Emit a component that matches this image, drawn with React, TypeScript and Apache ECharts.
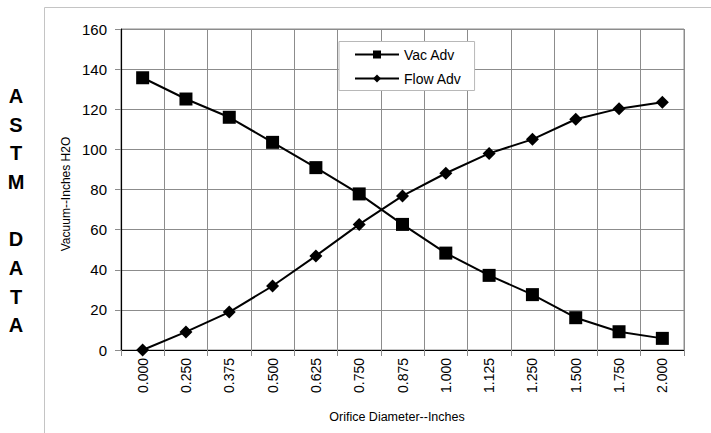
import React, { useEffect, useRef } from "react";
import * as echarts from "echarts";

const categories = ["0.000","0.250","0.375","0.500","0.625","0.750","0.875","1.000","1.125","1.250","1.500","1.750","2.000"];
const vacAdv = [135.7, 125.1, 116, 103.5, 90.9, 77.8, 62.6, 48.3, 37.2, 27.6, 16.1, 9.1, 5.8];
const flowAdv = [0, 9.0, 18.9, 31.9, 46.9, 62.6, 76.8, 88.1, 98, 105, 115, 120.3, 123.5];
const sideLetters = ["A", "S", "T", "M", "", "D", "A", "T", "A"];
const yTitle = "Vacuum--Inches H2O";
const xTitle = "Orifice Diameter--Inches";

const FONT = "'Liberation Sans', Arial, sans-serif";

export default function App() {
  const ref = useRef<HTMLDivElement>(null);
  useEffect(() => {
    if (!ref.current) return;
    const chart = echarts.init(ref.current, undefined, { renderer: "svg" });
    const letters = sideLetters
      .map((ch, i) => ({ ch, i }))
      .filter((d) => d.ch !== "")
      .map((d) => ({
        type: "text",
        x: 16,
        y: 96 + d.i * 28.66,
        style: {
          text: d.ch,
          fontFamily: FONT,
          fontSize: 20,
          fontWeight: "bold",
          fill: "#000",
          align: "center",
          verticalAlign: "middle",
        },
      }));
    chart.setOption({
      animation: false,
      backgroundColor: "#fff",
      textStyle: { fontFamily: FONT },
      graphic: [
        {
          type: "rect",
          shape: { x: 44.5, y: 7.5, width: 700, height: 500 },
          style: { fill: "none", stroke: "#c4c4c4", lineWidth: 1 },
          silent: true,
        },
        ...letters,
        {
          type: "text",
          x: 66,
          y: 194,
          rotation: Math.PI / 2,
          style: {
            text: yTitle,
            fontFamily: FONT,
            fontSize: 12,
            fill: "#000",
            align: "center",
            verticalAlign: "middle",
          },
        },
        {
          type: "text",
          x: 397,
          y: 417,
          style: {
            text: xTitle,
            fontFamily: FONT,
            fontSize: 12.5,
            fill: "#000",
            align: "center",
            verticalAlign: "middle",
          },
        },
      ],
      grid: {
        left: 121,
        top: 29,
        width: 563,
        height: 321,
        show: true,
        borderColor: "#8c8c8c",
        borderWidth: 1,
        containLabel: false,
      },
      legend: {
        orient: "vertical",
        left: 339,
        top: 41.5,
        itemWidth: 44,
        itemHeight: 10,
        itemGap: 10,
        padding: [6, 13, 5, 15],
        backgroundColor: "#fff",
        borderColor: "#b8b8b8",
        borderWidth: 1,
        borderRadius: 0,
        textStyle: { fontFamily: FONT, fontSize: 14, color: "#000", lineHeight: 14 },
        data: ["Vac Adv", "Flow Adv"],
      },
      xAxis: {
        type: "category",
        data: categories,
        boundaryGap: true,
        axisLine: { show: true, lineStyle: { color: "#000", width: 1.2 } },
        axisTick: { show: true, length: 6, lineStyle: { color: "#8c8c8c" } },
        splitLine: { show: true, lineStyle: { color: "#8c8c8c", width: 1 } },
        axisLabel: {
          rotate: 90,
          fontSize: 14,
          color: "#000",
          fontFamily: FONT,
          margin: 8,
          interval: 0,
        },
      },
      yAxis: {
        type: "value",
        min: 0,
        max: 160,
        interval: 20,
        axisLine: { show: true, lineStyle: { color: "#000", width: 1.2 } },
        axisTick: { show: true, length: 6, lineStyle: { color: "#8c8c8c" } },
        splitLine: { show: true, lineStyle: { color: "#8c8c8c", width: 1 } },
        axisLabel: { fontSize: 15, color: "#000", fontFamily: FONT, margin: 14 },
      },
      series: [
        {
          name: "Vac Adv",
          type: "line",
          data: vacAdv,
          symbol: "rect",
          symbolSize: 13,
          lineStyle: { color: "#000", width: 2 },
          itemStyle: { color: "#000" },
        },
        {
          name: "Flow Adv",
          type: "line",
          data: flowAdv,
          symbol: "diamond",
          symbolSize: 13,
          lineStyle: { color: "#000", width: 2 },
          itemStyle: { color: "#000" },
        },
      ],
    });
    return () => chart.dispose();
  }, []);
  return (
    <div
      ref={ref}
      style={{ position: "fixed", left: 0, top: 0, width: 711, height: 433 }}
    />
  );
}
